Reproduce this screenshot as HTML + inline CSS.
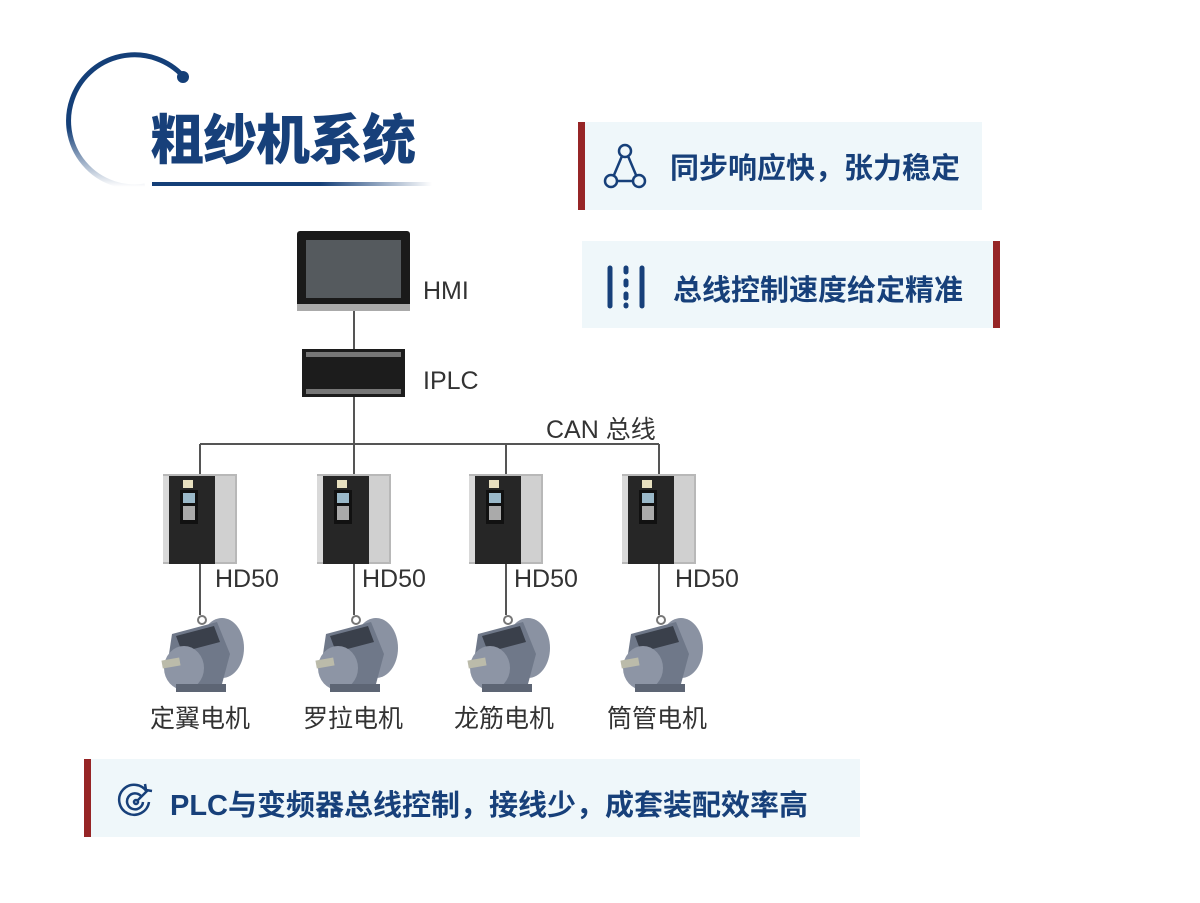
<!DOCTYPE html>
<html><head><meta charset="utf-8"><style>
html,body{margin:0;padding:0;background:#fff;}
body{width:1200px;height:903px;position:relative;overflow:hidden;font-family:"Liberation Sans","Noto Sans CJK SC",sans-serif;}
.box{position:absolute;background:#eff7fa;}
.bar{position:absolute;background:#962526;}
.t{position:absolute;color:#17407a;font-weight:bold;white-space:nowrap;}
.l{position:absolute;font-size:25px;color:#333;white-space:nowrap;}
</style></head><body>
<svg width="1200" height="903" style="position:absolute;left:0;top:0">
<defs>
<linearGradient id="arc" x1="0" y1="0" x2="0" y2="1"><stop offset="0" stop-color="#143f78"/><stop offset="0.55" stop-color="#143f78"/><stop offset="1" stop-color="#143f78" stop-opacity="0"/></linearGradient>
<linearGradient id="ul" x1="0" x2="1"><stop offset="0" stop-color="#143f78"/><stop offset="0.6" stop-color="#143f78"/><stop offset="1" stop-color="#143f78" stop-opacity="0"/></linearGradient>
<g id="drive">
<rect x="0" y="0" width="74" height="90" fill="#b8b8b8"/>
<rect x="0" y="2" width="6" height="86" fill="#d9d9d9"/>
<rect x="6" y="2" width="46" height="88" fill="#262626"/>
<rect x="52" y="2" width="20" height="86" fill="#d0d0d0"/>
<rect x="20" y="6" width="10" height="8" fill="#e8e0c0"/>
<rect x="17" y="16" width="18" height="34" fill="#111"/>
<rect x="20" y="19" width="12" height="10" fill="#9ab8c8"/>
<rect x="20" y="32" width="12" height="14" fill="#aaa"/>
</g>
<g id="motor">
<ellipse cx="60" cy="34" rx="22" ry="30" fill="#8a92a2"/>
<path d="M10 20 L55 8 L68 40 L60 70 L20 78 L4 60 Z" fill="#6f7889"/>
<path d="M14 22 L52 12 L58 28 L20 38 Z" fill="#3a404b"/>
<ellipse cx="22" cy="54" rx="20" ry="22" fill="#8d95a5"/>
<rect x="0" y="45" width="18" height="8" fill="#bba" transform="rotate(-10 9 49)"/>
<rect x="14" y="70" width="50" height="8" fill="#5d6574"/>
<circle cx="40" cy="6" r="4" fill="none" stroke="#777" stroke-width="2"/>
</g>
</defs>
<path d="M183 76 A66 66 0 1 0 145 186" fill="none" stroke="url(#arc)" stroke-width="5"/>
<circle cx="183" cy="77" r="6" fill="#143f78"/>
<rect x="152" y="182" width="280" height="4" fill="url(#ul)"/>
<g stroke="#555" stroke-width="2" fill="none">
<line x1="354" y1="310" x2="354" y2="475"/>
<line x1="200" y1="444" x2="659" y2="444"/>
<line x1="200" y1="444" x2="200" y2="475"/>
<line x1="506" y1="444" x2="506" y2="475"/>
<line x1="659" y1="444" x2="659" y2="475"/>
<line x1="200" y1="563" x2="200" y2="615"/>
<line x1="354" y1="563" x2="354" y2="615"/>
<line x1="506" y1="563" x2="506" y2="615"/>
<line x1="659" y1="563" x2="659" y2="615"/>
</g>
<rect x="297" y="231" width="113" height="80" rx="3" fill="#1a1a1a"/>
<rect x="306" y="240" width="95" height="58" fill="#555a5e"/>
<rect x="297" y="304" width="113" height="7" fill="#aaa"/>
<rect x="302" y="349" width="103" height="48" fill="#1c1c1c"/>
<rect x="306" y="352" width="95" height="5" fill="#777"/>
<rect x="306" y="389" width="95" height="5" fill="#777"/>
<use href="#drive" x="163" y="474"/><use href="#drive" x="317" y="474"/><use href="#drive" x="469" y="474"/><use href="#drive" x="622" y="474"/>
<use href="#motor" x="162" y="614"/><use href="#motor" x="316" y="614"/><use href="#motor" x="468" y="614"/><use href="#motor" x="621" y="614"/>
</svg>
<div class="t" style="left:150px;top:96px;font-size:54px;font-weight:900;letter-spacing:-1px;">粗纱机系统</div>

<div class="l" style="left:423px;top:277px;">HMI</div>
<div class="l" style="left:423px;top:367px;">IPLC</div>
<div class="l" style="left:546px;top:410px;">CAN 总线</div>
<div class="l" style="left:215px;top:565px;">HD50</div>
<div class="l" style="left:362px;top:565px;">HD50</div>
<div class="l" style="left:514px;top:565px;">HD50</div>
<div class="l" style="left:675px;top:565px;">HD50</div>
<div class="l" style="left:150px;top:699px;">定翼电机</div>
<div class="l" style="left:303px;top:699px;">罗拉电机</div>
<div class="l" style="left:454px;top:699px;">龙筋电机</div>
<div class="l" style="left:607px;top:699px;">筒管电机</div>

<div class="box" style="left:578px;top:122px;width:404px;height:88px"></div>
<div class="bar" style="left:578px;top:122px;width:7px;height:88px"></div>
<svg style="position:absolute;left:603px;top:143px" width="44" height="46"><g fill="none" stroke="#17407a" stroke-width="2.5"><circle cx="22" cy="8" r="6"/><circle cx="8" cy="38" r="6"/><circle cx="36" cy="38" r="6"/><line x1="19" y1="13" x2="11" y2="32"/><line x1="25" y1="13" x2="33" y2="32"/><line x1="14" y1="38" x2="30" y2="38"/></g></svg>
<div class="t" style="left:670px;top:145px;font-size:29px">同步响应快，张力稳定</div>

<div class="box" style="left:582px;top:241px;width:418px;height:87px"></div>
<div class="bar" style="left:993px;top:241px;width:7px;height:87px"></div>
<svg style="position:absolute;left:606px;top:264px" width="40" height="46"><g stroke="#17407a" stroke-width="5" stroke-linecap="round"><line x1="4" y1="4" x2="4" y2="42"/><line x1="36" y1="4" x2="36" y2="42"/><line x1="20" y1="4" x2="20" y2="8"/><line x1="20" y1="17" x2="20" y2="21"/><line x1="20" y1="30" x2="20" y2="34"/><line x1="20" y1="41" x2="20" y2="42"/></g></svg>
<div class="t" style="left:673px;top:267px;font-size:29px">总线控制速度给定精准</div>

<div class="box" style="left:84px;top:759px;width:776px;height:78px"></div>
<div class="bar" style="left:84px;top:759px;width:7px;height:78px"></div>
<svg style="position:absolute;left:117px;top:780px" width="40" height="40"><g fill="none" stroke="#17407a" stroke-width="2.5"><path d="M30 12 A15 15 0 1 0 32 22"/><path d="M24 16 A8 8 0 1 0 26 22"/><circle cx="19" cy="22" r="2"/><line x1="20" y1="21" x2="31" y2="10"/><path d="M28 4 L29 10 L35 11"/></g></svg>
<div class="t" style="left:170px;top:782px;font-size:29px">PLC与变频器总线控制，接线少，成套装配效率高</div>
</body></html>
